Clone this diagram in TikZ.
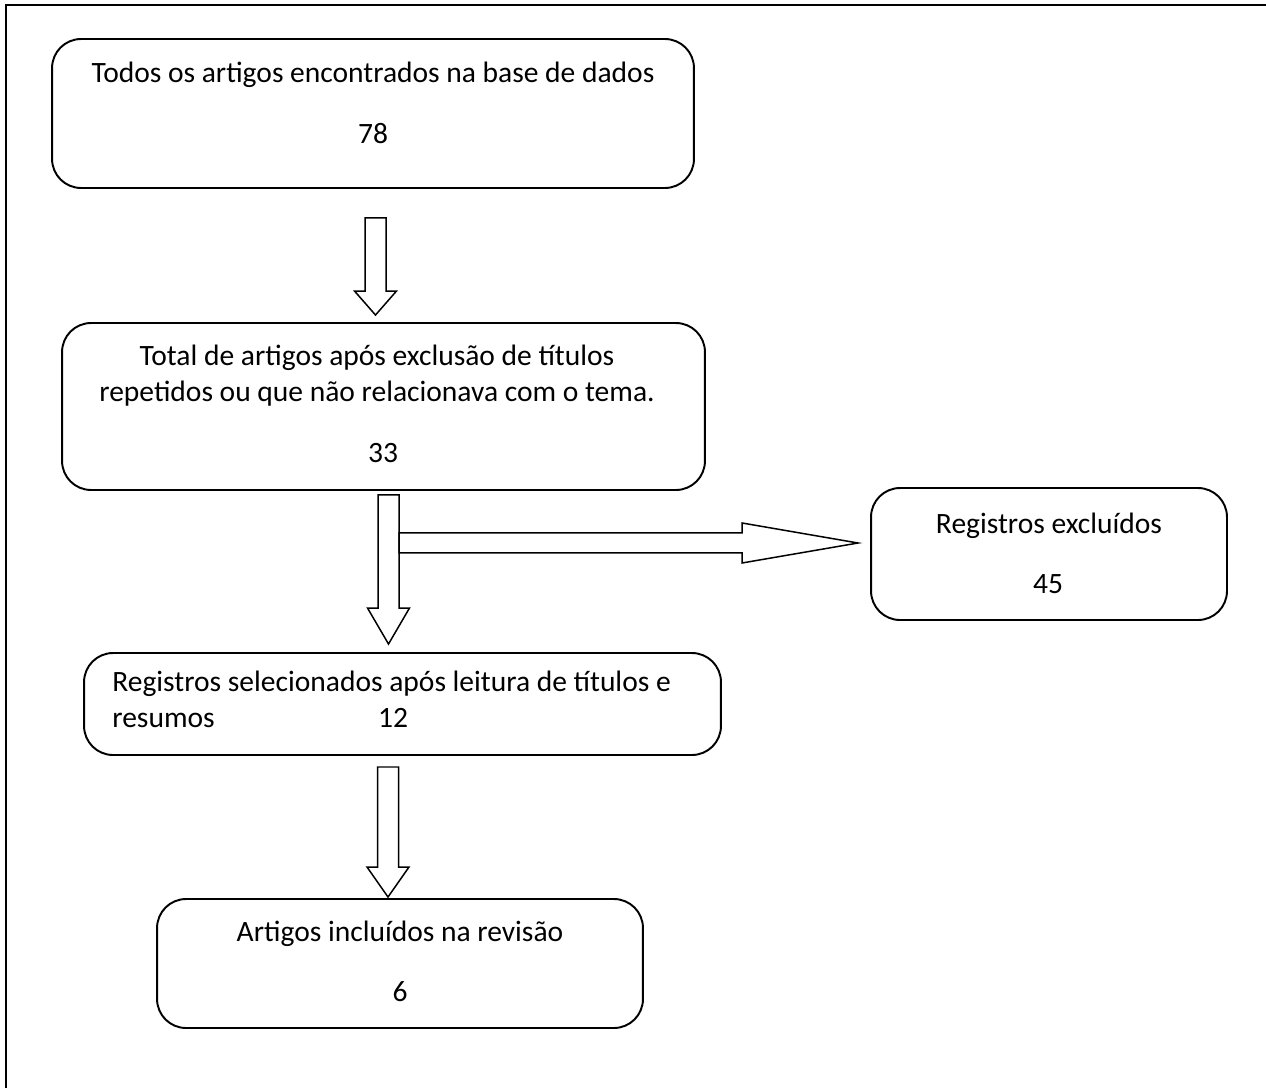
\documentclass[tikz,border=0pt]{standalone}
\usepackage{fontspec}
\setmainfont{Carlito}
\usetikzlibrary{calc}

\tikzset{
  caixa/.style={draw, line width=1.1pt, rounded corners=0.58cm, inner sep=0pt, outer sep=0pt},
  txt/.style={inner sep=0pt, anchor=base, font=\fontsize{16.8pt}{20.5pt}\selectfont},
  txtw/.style={txt, anchor=base west},
  seta/.style={draw, fill=white, line width=0.85pt, line join=miter}
}

% seta larga para baixo: cauda, ponta, comprimento da cabeça
\newcommand{\setabaixo}[3]{%
  \path[seta] let \p1=(#1), \p2=(#2) in
    (\x1-0.21cm,\y1) -- (\x1-0.21cm,\y2+#3) -- (\x1-0.42cm,\y2+#3) -- (\x2,\y2)
    -- (\x1+0.42cm,\y2+#3) -- (\x1+0.21cm,\y2+#3) -- (\x1+0.21cm,\y1) -- cycle;}
% seta larga para a direita
\newcommand{\setadireita}[3]{%
  \path[seta] let \p1=(#1), \p2=(#2) in
    (\x1,\y1+0.2cm) -- (\x2-#3,\y1+0.2cm) -- (\x2-#3,\y1+0.4cm) -- (\x2,\y2)
    -- (\x2-#3,\y1-0.4cm) -- (\x2-#3,\y1-0.2cm) -- (\x1,\y1-0.2cm) -- cycle;}

\begin{document}
\begin{tikzpicture}[x=0.02cm, y=-0.02cm]
\useasboundingbox (0,0) rectangle (1266,1088);
\draw[line width=1.6pt] (6,1088) -- (6,5) -- (1266,5);

% caixas
\node[caixa, minimum width=12.84cm, minimum height=2.98cm] (todos) at (373,113.5) {};
\node[caixa, minimum width=12.86cm, minimum height=3.34cm] (total) at (383.5,406.5) {};
\node[caixa, minimum width=7.12cm, minimum height=2.64cm] (excluidos) at (1049,554) {};
\node[caixa, minimum width=12.74cm, minimum height=2.04cm] (selecionados) at (402.5,704) {};
\node[caixa, minimum width=9.72cm, minimum height=2.58cm] (incluidos) at (400,963.5) {};

% textos
\node[txt] (todost) at (373,83) {Todos os artigos encontrados na base de dados};
\node[txt] (todosn) at (373,143) {78};
\node[txt] (totalt1) at (377,365) {Total de artigos após exclusão de títulos};
\node[txt] (totalt2) at (377,401) {repetidos ou que não relacionava com o tema.};
\node[txt] (totaln) at (383,462) {33};
\node[txt] (excluidost) at (1049,533) {Registros excluídos};
\node[txt] (excluidosn) at (1048,593) {45};
\node[txtw] (selecionadost1) at (112,691) {Registros selecionados após leitura de títulos e};
\node[txtw] (selecionadost2) at (112,727) {resumos};
\node[txt] (selecionadosn) at (393,727) {12};
\node[txt] (incluidost) at (400,941) {Artigos incluídos na revisão};
\node[txt] (incluidosn) at (400,1001) {6};

% setas
\coordinate (s1a) at ($(todos.south)+(2.5,30)$);
\coordinate (s1b) at ($(total.north)+(-8,-8)$);
\coordinate (s2a) at ($(total.south)+(5,5)$);
\coordinate (s2b) at ($(selecionados.north)+(-14,-9)$);
\coordinate (s3a) at ($(s2a)+(10.5,48)$);
\coordinate (s3b) at ($(excluidos.west)+(-13,-11)$);
\coordinate (s4a) at ($(selecionados.south)+(-14.5,12)$);
\coordinate (s4b) at ($(incluidos.north)+(-12,-2)$);

\setabaixo{s1a}{s1b}{0.48cm}
\setabaixo{s2a}{s2b}{0.72cm}
\setadireita{s3a}{s3b}{2.32cm}
\setabaixo{s4a}{s4b}{0.6cm}
\end{tikzpicture}
\end{document}
